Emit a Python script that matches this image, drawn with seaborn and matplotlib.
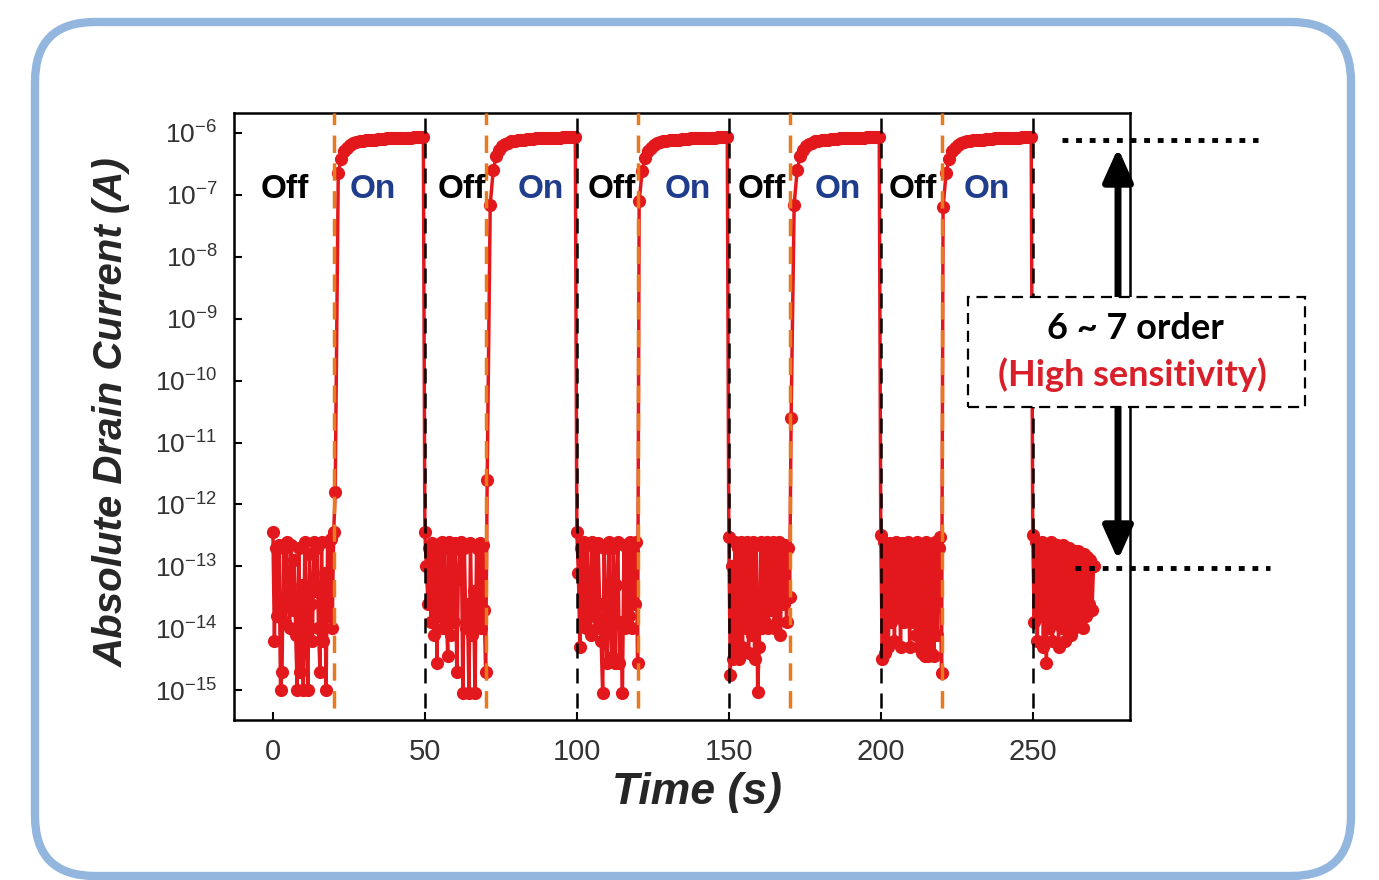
import numpy as np
import pandas as pd
import matplotlib.pyplot as plt
import seaborn as sns
from matplotlib.patches import FancyBboxPatch, Rectangle
from matplotlib.lines import Line2D
from matplotlib.ticker import NullLocator

# log10 of drain current, off periods sampled every 0.5 s (41 points each)
off_starts = [0, 50, 100, 150, 200, 250]
off1 = [-12.45, -14.2, -12.7, -13.8, -12.65, -15.0, -14.7, -12.7, -13.9, -12.6,
        -13.5, -14.0, -12.65, -13.7, -12.9, -14.1, -15.0, -12.7, -14.7, -13.3,
        -15.0, -12.6, -13.9, -15.0, -12.8, -13.6, -14.2, -12.6, -13.4, -12.7,
        -14.0, -14.7, -12.6, -14.2, -13.1, -15.0, -12.6, -13.8, -12.55, -14.0, -12.45]
off2 = [-12.45, -13.0, -13.6, -12.7, -13.9, -12.62, -14.1, -12.7, -14.56, -12.65,
        -13.8, -12.6, -14.0, -12.7, -13.5, -14.45, -12.6, -14.1, -12.75, -13.9,
        -12.62, -14.7, -13.2, -12.7, -12.6, -15.05, -12.7, -14.0, -13.6, -15.05,
        -12.62, -14.1, -13.4, -15.05, -12.7, -13.9, -12.62, -14.0, -12.65, -13.7, -14.7]
off3 = [-12.45, -13.1, -14.3, -12.7, -13.9, -12.6, -14.0, -12.65, -13.5, -14.1,
        -12.6, -13.8, -12.7, -14.0, -12.62, -13.6, -14.2, -15.05, -12.7, -14.0,
        -14.56, -12.6, -13.9, -14.47, -12.7, -14.56, -13.3, -12.6, -14.56, -13.9,
        -15.05, -12.65, -14.0, -12.7, -13.8, -12.6, -14.0, -12.75, -13.6, -12.6, -14.56]
off4 = [-12.53, -14.76, -13.0, -14.5, -12.6, -14.4, -12.7, -14.5, -12.6, -14.3,
        -12.65, -14.0, -12.6, -14.4, -12.7, -14.1, -12.6, -14.5, -12.65, -15.03,
        -14.3, -12.6, -14.0, -12.7, -13.9, -12.6, -14.0, -12.65, -13.7, -12.6,
        -14.0, -12.7, -13.9, -12.6, -14.1, -12.7, -13.6, -12.65, -13.9, -12.7, -13.5]
off5 = [-12.5, -14.5, -12.6, -14.4, -12.7, -14.3, -12.62, -13.9, -12.7, -14.2,
        -12.6, -13.8, -12.65, -14.3, -12.62, -13.9, -12.7, -13.8, -12.6, -14.3,
        -12.65, -13.9, -12.7, -14.1, -12.6, -14.3, -12.65, -14.4, -12.7, -14.45,
        -12.6, -14.45, -12.7, -14.4, -12.65, -14.45, -12.6, -14.1, -12.7, -12.53, -14.72]
off6 = [-12.5, -13.9, -12.6, -14.2, -12.65, -13.8, -12.6, -14.3, -12.7, -14.56,
        -12.65, -14.0, -12.6, -14.2, -12.7, -13.9, -12.65, -14.3, -12.7, -14.0,
        -12.65, -14.2, -12.7, -13.9, -12.7, -14.1, -12.8, -14.0, -12.75, -13.9,
        -12.75, -13.7, -12.8, -14.0, -12.8, -13.8, -12.85, -13.6, -12.9, -13.7, -13.0]

# on periods sampled every 1 s starting 0.5 s after the light is switched on
on_starts = [20, 70, 120, 170, 220]
on1 = [-11.8, -6.65, -6.42, -6.3, -6.24, -6.2, -6.17, -6.15, -6.14, -6.13,
       -6.12, -6.12, -6.11, -6.11, -6.1, -6.1, -6.1, -6.09, -6.09, -6.09,
       -6.09, -6.08, -6.08, -6.08, -6.08, -6.08, -6.07, -6.07, -6.07, -6.07]
on2 = [-11.6, -7.16, -6.6, -6.38, -6.28, -6.22, -6.18, -6.16, -6.14, -6.13,
       -6.12, -6.11, -6.11, -6.1, -6.1, -6.1, -6.09, -6.09, -6.09, -6.09,
       -6.08, -6.08, -6.08, -6.08, -6.08, -6.07, -6.07, -6.07, -6.07, -6.07]
on3 = [-7.1, -6.62, -6.4, -6.3, -6.24, -6.2, -6.17, -6.15, -6.14, -6.13,
       -6.12, -6.12, -6.11, -6.11, -6.1, -6.1, -6.1, -6.09, -6.09, -6.09,
       -6.09, -6.08, -6.08, -6.08, -6.08, -6.08, -6.07, -6.07, -6.07, -6.07]
on4 = [-10.6, -7.16, -6.6, -6.38, -6.28, -6.22, -6.18, -6.16, -6.14, -6.13,
       -6.12, -6.11, -6.11, -6.1, -6.1, -6.1, -6.09, -6.09, -6.09, -6.09,
       -6.08, -6.08, -6.08, -6.08, -6.08, -6.07, -6.07, -6.07, -6.07, -6.07]
on5 = [-7.2, -6.65, -6.42, -6.3, -6.24, -6.2, -6.17, -6.15, -6.14, -6.13,
       -6.12, -6.12, -6.11, -6.11, -6.1, -6.1, -6.1, -6.09, -6.09, -6.09,
       -6.09, -6.08, -6.08, -6.08, -6.08, -6.08, -6.07, -6.07, -6.07, -6.07]

off_times_black = [50, 100, 150, 200, 250]
on_times_orange = [20, 70, 120, 170, 220]
y_ticks = [1e-15, 1e-14, 1e-13, 1e-12, 1e-11, 1e-10, 1e-9, 1e-8, 1e-7, 1e-6]
x_ticks = [0, 50, 100, 150, 200, 250]
label_x_off = [4, 62, 111.5, 161, 210.5]
label_x_on = [33, 88, 136.5, 186, 235]

# build one long trace in time order
offs = [off1, off2, off3, off4, off5, off6]
ons = [on1, on2, on3, on4, on5]
parts = []
for i, (t0, vals) in enumerate(zip(off_starts, offs)):
    parts.append(pd.DataFrame({'time': t0 + 0.5 * np.arange(len(vals)), 'logI': vals}))
    if i < len(ons):
        parts.append(pd.DataFrame({'time': on_starts[i] + 0.5 + np.arange(len(ons[i])), 'logI': ons[i]}))
df = pd.concat(parts, ignore_index=True)
df['current'] = 10.0 ** df['logI']

W, H = 1379, 880
sns.set_theme(style='white')
plt.rcParams['font.family'] = ['Liberation Sans', 'DejaVu Sans']
plt.rcParams['mathtext.fontset'] = 'custom'
plt.rcParams['mathtext.rm'] = 'Liberation Sans'
plt.rcParams['mathtext.it'] = 'Liberation Sans:italic'
plt.rcParams['mathtext.bf'] = 'Liberation Sans:bold'
# keep every zigzag of the noisy off-state trace
plt.rcParams['path.simplify'] = False

fig = plt.figure(figsize=(W / 100, H / 100), dpi=100)
ax = fig.add_axes([234 / W, 1 - 720 / H, (1130 - 234) / W, (720 - 113) / H])

def px(x, y):
    return x / W, 1 - y / H

red = '#e3181d'
sns.lineplot(data=df, x='time', y='current', sort=False, estimator=None, ax=ax,
             color=red, linewidth=2.5, marker='o', markersize=9.5, markeredgewidth=0)
ax.set_yscale('log')
ax.set_xlim(-12.8, 282)
ax.set_ylim(10 ** -15.48, 10 ** -5.68)
ax.set_yticks(y_ticks)
ax.yaxis.set_minor_locator(NullLocator())
ax.set_xticks(x_ticks)

for t in on_times_orange:
    ax.axvline(t, ymin=0.02, ymax=1, color='#e87a1e', lw=2.5, ls=(0, (5, 3)), zorder=5)
for t in off_times_black:
    ax.axvline(t, ymin=0.02, ymax=1, color='black', lw=1.8, ls=(0, (6, 4)), zorder=5)

for t in label_x_off:
    ax.text(t, 10 ** -6.92, 'Off', ha='center', va='center', fontsize=24,
            fontweight='bold', color='black', zorder=6)
for t in label_x_on:
    ax.text(t, 10 ** -6.92, 'On', ha='center', va='center', fontsize=24,
            fontweight='bold', color='#1f3d8c', zorder=6)

for s in ax.spines.values():
    s.set_color('black')
    s.set_linewidth(1.8)
ax.tick_params(axis='both', direction='in', length=6, width=1.5, colors='black',
               left=True, bottom=True, top=False, right=False)
ax.tick_params(axis='y', labelsize=19, labelcolor='#333333', pad=12)
ax.tick_params(axis='x', labelsize=21, labelcolor='#333333', pad=13)

ax.set_xlabel('Time (s)', fontsize=32, fontweight='bold', style='italic')
ax.xaxis.set_label_coords(0.517, -0.085)
ax.set_ylabel('Absolute Drain Current (A)', fontsize=29, fontweight='bold', style='italic')
ax.yaxis.set_label_coords(-0.115, 0.507)

# annotation on the right: dotted level lines, arrows and dashed box
fig.add_artist(Line2D([px(1062, 0)[0], px(1258, 0)[0]], [px(0, 140)[1]] * 2,
                      transform=fig.transFigure, color='black', lw=3.5, ls=(0, (1.2, 1.6))))
fig.add_artist(Line2D([px(1075, 0)[0], px(1270, 0)[0]], [px(0, 568)[1]] * 2,
                      transform=fig.transFigure, color='black', lw=3.5, ls=(0, (1.2, 1.6))))
arrow = dict(arrowstyle='-|>,head_length=1.0,head_width=0.45', lw=5, color='black',
             shrinkA=0, shrinkB=0, mutation_scale=20)
ax.annotate('', xy=px(1118, 148), xycoords='figure fraction',
            xytext=px(1118, 297), textcoords='figure fraction', arrowprops=arrow)
ax.annotate('', xy=px(1118, 560), xycoords='figure fraction',
            xytext=px(1118, 407), textcoords='figure fraction', arrowprops=arrow)
fig.add_artist(Rectangle(px(968, 407), 337 / W, 110 / H, transform=fig.transFigure,
                         facecolor='white', edgecolor='black', lw=1.6, ls=(0, (5, 3)), zorder=4))
fig.text(*px(1135, 328), '6 ~ 7 order', ha='center', va='center', fontsize=26,
         fontweight='bold', family='Lato', color='black', zorder=6)
fig.text(*px(1132, 375), '(High sensitivity)', ha='center', va='center', fontsize=26,
         fontweight='bold', family='Lato', color='#d9202a', zorder=6)

# rounded frame around the whole panel
fig.add_artist(FancyBboxPatch((0.35, 0.04), 13.16, 8.54,
                              boxstyle='round,pad=0,rounding_size=0.6',
                              transform=fig.dpi_scale_trans, facecolor='none',
                              edgecolor='#93b6df', lw=6))

fig.savefig('out.png', dpi=100)
